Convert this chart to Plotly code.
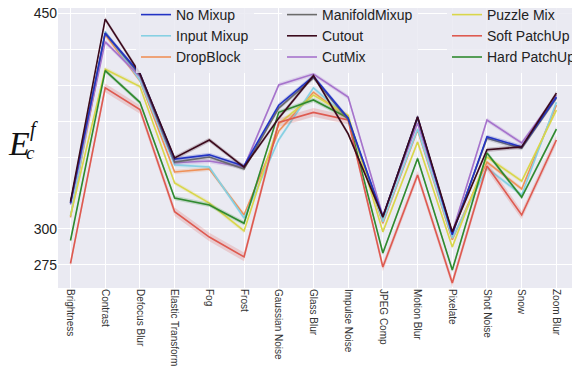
import plotly.graph_objects as go

categories = ["Brightness", "Contrast", "Defocus Blur", "Elastic Transform", "Fog", "Frost",
              "Gaussian Noise", "Glass Blur", "Impulse Noise", "JPEG Comp", "Motion Blur",
              "Pixelate", "Shot Noise", "Snow", "Zoom Blur"]

no_mixup      = [318, 436, 408, 348.5, 351.5, 343.8, 386, 406, 377, 308.5, 377.8, 296, 364, 357, 391.7]
input_mixup   = [309, 437, 403.5, 344.5, 343, 307.6, 362, 398, 377, 305, 369.5, 293.7, 342.4, 323.6, 388]
dropblock     = [308, 435, 403, 339.6, 341.7, 309.7, 368, 395, 377, 304, 368.8, 292.5, 346.5, 327.8, 386]
manifoldmixup = [318, 436, 407, 346.5, 350, 341.7, 384, 405, 376, 308, 377, 297, 363, 356, 391]
cutout        = [319, 445.8, 408, 349.3, 361.8, 343, 377, 406.5, 366, 308.5, 378, 298, 355, 357, 394.4]
cutmix        = [317, 430, 406, 346, 347.2, 343, 400, 407.6, 391.7, 309, 373.6, 297.5, 375.7, 359.7, 393]
puzzle_mix    = [309, 411, 399, 332, 318, 298.6, 373, 393, 379, 298, 360.4, 287.5, 350, 333.3, 382.6]
soft_patchup  = [276, 398, 383, 312, 294.4, 280.6, 374, 381, 375.7, 273.6, 337.5, 262.5, 343.8, 309.7, 361.8]
hard_patchup  = [292, 410, 388, 321.5, 316.7, 304, 381, 389.6, 377, 283.3, 349, 271.5, 352.8, 322, 369.4]

y_tickvals = [275, 300, 325, 350, 375, 400, 425, 450]
y_ticktext = ["275", "300", "", "", "", "", "", "450"]

# name, values, colour, band half-width, legend column, rank within column
series = [
    ("No Mixup", no_mixup, "#2233c4", 1.5, "legend", 1),
    ("Input Mixup", input_mixup, "#86d0e3", 1.5, "legend", 2),
    ("DropBlock", dropblock, "#ef9158", 1.5, "legend", 3),
    ("ManifoldMixup", manifoldmixup, "#6b6b6b", 1.5, "legend2", 1),
    ("Cutout", cutout, "#3b0a1c", 1.5, "legend2", 2),
    ("CutMix", cutmix, "#a673cc", 1.5, "legend2", 3),
    ("Puzzle Mix", puzzle_mix, "#d9d64a", 1.5, "legend3", 1),
    ("Soft PatchUp", soft_patchup, "#de5a50", 3.0, "legend3", 2),
    ("Hard PatchUp", hard_patchup, "#2f8a2f", 1.5, "legend3", 3),
]

def rgba(hexc, a):
    h = hexc.lstrip("#")
    return "rgba(%d,%d,%d,%.2f)" % (int(h[0:2], 16), int(h[2:4], 16), int(h[4:6], 16), a)

fig = go.Figure()
draw_order = [2, 1, 6, 8, 7, 5, 3, 0, 4]
for i in draw_order:
    name, vals, col, band, leg, rank = series[i]
    upper = [v + band for v in vals]
    lower = [v - band for v in vals]
    fig.add_trace(go.Scatter(x=categories + categories[::-1], y=upper + lower[::-1],
                             fill="toself", fillcolor=rgba(col, 0.22), line=dict(width=0),
                             hoverinfo="skip", showlegend=False, mode="lines"))
    fig.add_trace(go.Scatter(x=categories, y=vals, mode="lines", name=name,
                             line=dict(color=col, width=1.6), legend=leg, legendrank=rank))

# The page body adds an 8 px offset; figure coordinates are screen coordinates minus 8.
OFF = 8
W, H = 580, 379
ml, mr, mt, mb = 50, 8, 0, 99
pw, ph = W - ml - mr, H - mt - mb
left_s, bottom_s = ml + OFF, H - mb + OFF

def px(xs):
    return (xs - left_s) / pw

def py(ys):
    return (bottom_s - ys) / ph

legend_style = dict(orientation="v", yanchor="top", xanchor="left", y=py(-1),
                    bgcolor="rgba(234,234,242,0.85)", font=dict(size=14, color="#222"),
                    traceorder="normal", borderwidth=0)

fig.update_layout(
    width=W, height=H,
    margin=dict(l=ml, r=mr, t=mt, b=mb, autoexpand=False),
    paper_bgcolor="white",
    plot_bgcolor="#eaeaf2",
    font=dict(family="Liberation Sans, Arial, sans-serif", color="#222"),
    showlegend=True,
    legend=dict(x=px(136), **legend_style),
    legend2=dict(x=px(282), **legend_style),
    legend3=dict(x=px(447), **legend_style),
    xaxis=dict(type="category", range=[-0.36, 14.68], tickangle=90, automargin=False,
               tickfont=dict(size=10, color="#333"), showgrid=True, gridcolor="white",
               gridwidth=1.2, zeroline=False, ticks="", showline=False),
    yaxis=dict(range=[259, 453.5], tickvals=y_tickvals, ticktext=y_ticktext, automargin=False,
               ticklabeloverflow="allow",
               tickfont=dict(size=14, color="#222"), showgrid=True, gridcolor="white",
               gridwidth=1.2, zeroline=False, ticks="", showline=False),
)

ann_font = dict(family="Liberation Serif, serif", color="#111")
fig.add_annotation(text="<i>E</i>", x=px(19), y=py(143), xref="paper", yref="paper",
                   xanchor="center", yanchor="middle", showarrow=False,
                   font=dict(size=34, **ann_font))
fig.add_annotation(text="<i>c</i>", x=px(30), y=py(152), xref="paper", yref="paper",
                   xanchor="center", yanchor="middle", showarrow=False,
                   font=dict(size=19, **ann_font))
fig.add_annotation(text="<i>f</i>", x=px(34), y=py(129), xref="paper", yref="paper",
                   xanchor="center", yanchor="middle", showarrow=False,
                   font=dict(size=20, **ann_font))

fig.write_html("out.html")
